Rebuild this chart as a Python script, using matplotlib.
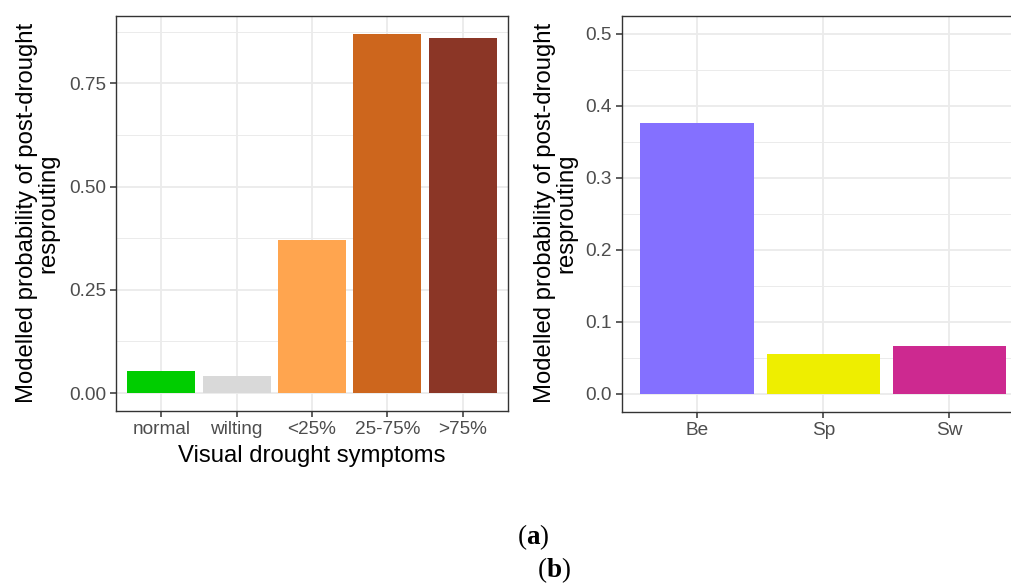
import matplotlib
matplotlib.use("Agg")
import matplotlib.pyplot as plt
import numpy as np

plt.rcParams["mathtext.fontset"] = "custom"
plt.rcParams["mathtext.rm"] = "Liberation Serif"
plt.rcParams["mathtext.bf"] = "Liberation Serif:bold"

# ---- data ----
symptom_labels = ["normal", "wilting", "<25%", "25-75%", ">75%"]
symptom_values = [0.054, 0.042, 0.370, 0.870, 0.861]
symptom_colors = ["#00CD00", "#D9D9D9", "#FFA54F", "#CD661D", "#8B3626"]

species_labels = ["Be", "Sp", "Sw"]
species_values = [0.377, 0.056, 0.067]
species_colors = ["#8470FF", "#EEEE00", "#CD2990"]

left_yticks = [0.00, 0.25, 0.50, 0.75]
left_yticklabels = ["0.00", "0.25", "0.50", "0.75"]
right_yticks = [0.0, 0.1, 0.2, 0.3, 0.4, 0.5]
right_yticklabels = ["0.0", "0.1", "0.2", "0.3", "0.4", "0.5"]

ylabel_text = "Modelled probability of post-drought\nresprouting"
xlabel_left = "Visual drought symptoms"

W, H = 1011, 583
fig = plt.figure(figsize=(W / 100, H / 100), dpi=100)
fig.patch.set_facecolor("white")

FONT = "Liberation Sans"
GRID_COL = "#EBEBEB"
BORDER_COL = "#333333"
TICK_COL = "#4D4D4D"


def px_axes(x0, y0, x1, y1):
    return fig.add_axes([x0 / W, 1 - y1 / H, (x1 - x0) / W, (y1 - y0) / H])


def style(ax, yticks, yticklabels, minor, labels, ylim):
    n = len(labels)
    ax.set_xlim(-0.6, n - 1 + 0.6)
    ax.set_ylim(*ylim)
    ax.set_xticks(range(n))
    ax.set_xticklabels(labels, fontfamily=FONT, fontsize=13.7, color=TICK_COL)
    ax.set_yticks(yticks)
    ax.set_yticklabels(yticklabels, fontfamily=FONT, fontsize=13.7, color=TICK_COL)
    ax.set_yticks(minor, minor=True)
    ax.tick_params(axis="y", which="minor", length=0)
    ax.grid(True, which="major", color=GRID_COL, linewidth=1.3, zorder=0)
    ax.grid(True, which="minor", axis="y", color=GRID_COL, linewidth=0.7, zorder=0)
    ax.set_axisbelow(True)
    ax.tick_params(axis="both", which="major", length=4.5, width=1.1,
                   color=BORDER_COL, pad=2.5)
    for s in ax.spines.values():
        s.set_color(BORDER_COL)
        s.set_linewidth(1.0)


# ---- left panel ----
axL = px_axes(116, 16, 508, 411)
ymaxL = max(symptom_values)
axL.bar(range(len(symptom_labels)), symptom_values, width=0.9,
        color=symptom_colors, zorder=2)
style(axL, left_yticks, left_yticklabels, [0.125, 0.375, 0.625, 0.875],
      symptom_labels, (-0.05 * ymaxL, ymaxL * 1.05))

# ---- right panel (cut off at right edge) ----
axR = px_axes(621.5, 16, 1025, 412)
axR.bar(range(len(species_labels)), species_values, width=0.9,
        color=species_colors, zorder=2)
style(axR, right_yticks, right_yticklabels,
      [0.05, 0.15, 0.25, 0.35, 0.45], species_labels, (-0.025, 0.525))

# ---- axis titles ----
fig.text(37.5 / W, 1 - 213 / H, ylabel_text, rotation=90, ha="center",
         va="center", multialignment="center", fontfamily=FONT,
         fontsize=17.2, linespacing=0.95, color="black")
fig.text(556 / W, 1 - 213 / H, ylabel_text, rotation=90, ha="center",
         va="center", multialignment="center", fontfamily=FONT,
         fontsize=17.2, linespacing=0.95, color="black")
fig.text(312 / W, 1 - 456 / H, xlabel_left, ha="center", va="center",
         fontfamily=FONT, fontsize=17.2, color="black")

# ---- captions ----
fig.text(533 / W, 1 - 537 / H, r"($\mathbf{a}$)", ha="center", va="center",
         fontfamily="Liberation Serif", fontsize=19.5)
fig.text(554 / W, 1 - 570 / H, r"($\mathbf{b}$)", ha="center", va="center",
         fontfamily="Liberation Serif", fontsize=19.5)

fig.savefig("out.png", dpi=100, facecolor="white")
